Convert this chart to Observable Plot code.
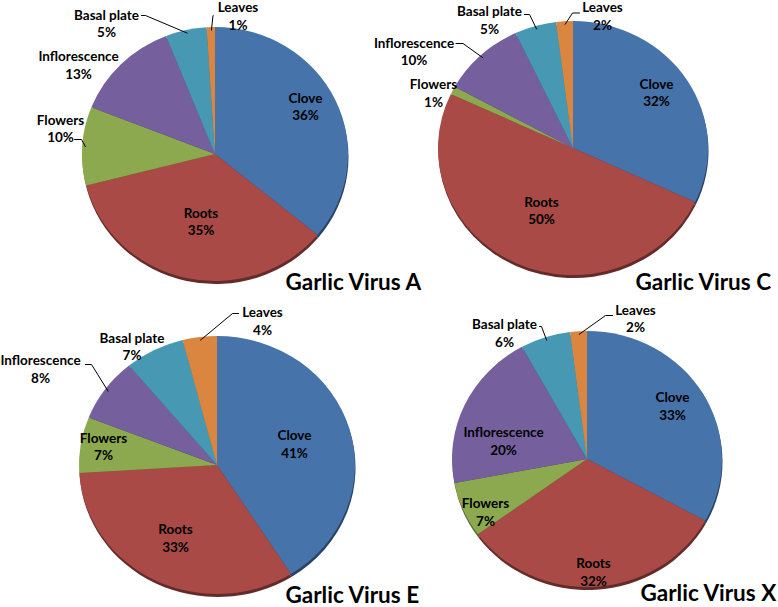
<!DOCTYPE html>
<html>
<head>
<meta charset="utf-8">
<script src="https://cdn.jsdelivr.net/npm/d3@7"></script>
<script src="https://cdn.jsdelivr.net/npm/@observablehq/plot@0.6"></script>
<style>
  html, body { margin: 0; padding: 0; background: #fff; }
  #chart svg { display: block; }
</style>
</head>
<body>
<div id="chart"></div>
<script>
// ---------- DATA ----------
const parts = ["Clove", "Roots", "Flowers", "Inflorescence", "Basal plate", "Leaves"];
const viruses = ["Garlic Virus A", "Garlic Virus C", "Garlic Virus E", "Garlic Virus X"];
const virusKeys = ["A", "C", "E", "X"];
const virusA = [36, 35, 10, 13, 5, 1];
const virusC = [32, 50, 1, 10, 5, 2];
const virusE = [41, 33, 7, 8, 7, 4];
const virusX = [33, 32, 7, 20, 6, 2];

// ---------- STYLE / LAYOUT ----------
const partColors = ["#4673AA", "#A94A46", "#8CA94F", "#75609D", "#4799B3", "#DB8640"];
const pieLayout = {
  A: {cx: 215, cy: 154, rx: 133, ry: 127, tx: 285, ty: 289},
  C: {cx: 573, cy: 148, rx: 135, ry: 127, tx: 635, ty: 289},
  E: {cx: 217, cy: 465, rx: 138, ry: 129, tx: 285, ty: 602},
  X: {cx: 587, cy: 459, rx: 135, ry: 128, tx: 640, ty: 600}
};
// label offset from pie centre [dx, dy], optional leader [attach dx, attach dy, stub]
const labelLayout = {
  A: [[90, -48.5], [-14.5, 66.5], [-155, -26.5, [14, 11.5, 7]], [-137, -90], [-109, -131.5, [35, -7.5, 4]], [22.5, -139, [-25, 0, 0]]],
  C: [[83, -56.5], [-32, 61.5], [-140, -56], [-159.5, -97.5, [42, -7.5, 7]], [-84, -129, [35, -5, 5]], [29, -133, [-23, -2.5, -7]]],
  E: [[77, -22], [-42, 72], [-114, -19.5], [-177, -97, [45, -4, 6]], [-85.5, -119.5], [45, -145, [-24, -7, -6]]],
  X: [[85, -54], [6, 112], [-102, 52], [-84, -19], [-83, -127, [35, -6, 2]], [48, -141.5, [-23, -2.5, -7]]]
};

const seriesByKey = {A: virusA, C: virusC, E: virusE, X: virusX};

const slices = [], labels = [], leaders = [], titles = [];
virusKeys.forEach((k, i) => {
  const L = pieLayout[k];
  const arcs = d3.pie().sort(null).value(d => d)(seriesByKey[k]);
  arcs.forEach((a, j) => {
    slices.push({pie: k, part: parts[j], value: a.data, a0: a.startAngle, a1: a.endAngle, cx: L.cx, cy: L.cy, rx: L.rx, ry: L.ry});
    const mid = (a.startAngle + a.endAngle) / 2;
    const [dx, dy, ld] = labelLayout[k][j];
    labels.push({x: L.cx + dx, y: L.cy + dy, text: `${parts[j]}\n${a.data}%`});
    if (ld) {
      const [ax, ay, s] = ld;
      const x0 = L.cx + dx + ax, y0 = L.cy + dy + ay;
      const ex = L.cx + Math.sin(mid) * L.rx * 0.98;
      const ey = L.cy - Math.cos(mid) * L.ry * 0.98;
      const id = k + j;
      leaders.push({id, x: x0, y: y0}, {id, x: x0 + s, y: y0}, {id, x: ex, y: ey});
    }
  });
  titles.push({x: L.tx, y: L.ty, text: viruses[i]});
});

const font = "Lato, 'Open Sans', sans-serif";

const chart = Plot.plot({
  width: 778,
  height: 607,
  margin: 0,
  x: {domain: [0, 778], range: [0, 778], axis: null},
  y: {domain: [0, 607], range: [0, 607], axis: null},
  color: {domain: parts, range: partColors},
  style: {fontFamily: font, background: "#fff"},
  marks: [
    Plot.dot(slices, {
      x: "cx", y: "cy", fill: "part",
      render(index, scales, values) {
        const g = d3.create("svg:g");
        // darker bevel/shadow underneath
        for (const i of index) {
          const d = slices[i];
          const arc = d3.arc().innerRadius(0).outerRadius(d.rx).startAngle(d.a0).endAngle(d.a1);
          g.append("path")
            .attr("transform", `translate(${values.x[i] + 0.5},${values.y[i] + 3}) scale(1,${d.ry / d.rx})`)
            .attr("d", arc())
            .attr("fill", d3.color(values.fill[i]).darker(1.5));
        }
        for (const i of index) {
          const d = slices[i];
          const arc = d3.arc().innerRadius(0).outerRadius(d.rx).startAngle(d.a0).endAngle(d.a1);
          g.append("path")
            .attr("transform", `translate(${values.x[i]},${values.y[i]}) scale(1,${d.ry / d.rx})`)
            .attr("d", arc())
            .attr("fill", values.fill[i]);
        }
        return g.node();
      }
    }),
    Plot.line(leaders, {x: "x", y: "y", z: "id", stroke: "#000", strokeWidth: 1}),
    Plot.text(labels, {
      x: "x", y: "y", text: "text",
      fontSize: 13.5, fontWeight: "bold", lineHeight: 1.3, fill: "#000", fontFamily: font
    }),
    Plot.text(titles, {
      x: "x", y: "y", text: "text",
      textAnchor: "start", lineAnchor: "bottom",
      fontSize: 22.5, fontWeight: "bold", fill: "#000", fontFamily: font
    })
  ]
});

document.getElementById("chart").appendChild(chart);
</script>
</body>
</html>
